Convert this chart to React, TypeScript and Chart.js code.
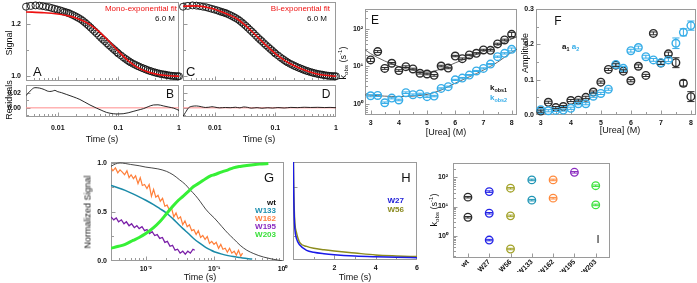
import React, { useEffect, useRef } from 'react';
import { Chart, registerables } from 'chart.js';

Chart.register(...registerables);

const PAGE_W = 697;
const PAGE_H = 283;
const FONT = '"Liberation Sans", Arial, Helvetica, sans-serif';
const RED = '#ee1111';
const GRAY = '#9a9a9a';

// ---------- A–D: 6.0 M urea trace, fits and residuals ----------
const traceTime = [0.003, 0.0036, 0.0043, 0.005, 0.0057, 0.0064, 0.0072, 0.008, 0.0089, 0.0099, 0.011, 0.012, 0.013, 0.014, 0.015, 0.016, 0.0175, 0.019, 0.0205, 0.022, 0.024, 0.026, 0.028, 0.03, 0.0325, 0.035, 0.038, 0.041, 0.044, 0.048, 0.052, 0.056, 0.06, 0.065, 0.07, 0.076, 0.082, 0.088, 0.095, 0.1, 0.11, 0.12, 0.13, 0.14, 0.15, 0.16, 0.175, 0.19, 0.205, 0.22, 0.24, 0.26, 0.28, 0.3, 0.325, 0.35, 0.38, 0.41, 0.44, 0.48, 0.52, 0.56, 0.6, 0.65, 0.7, 0.76, 0.82, 0.88, 0.95, 1.0];
const traceSignal = [1.266, 1.269, 1.271, 1.27, 1.268, 1.266, 1.264, 1.261, 1.258, 1.255, 1.252, 1.249, 1.246, 1.244, 1.242, 1.239, 1.235, 1.231, 1.227, 1.223, 1.218, 1.212, 1.206, 1.2, 1.193, 1.186, 1.178, 1.171, 1.164, 1.155, 1.147, 1.14, 1.134, 1.126, 1.119, 1.112, 1.105, 1.099, 1.092, 1.087, 1.08, 1.073, 1.067, 1.062, 1.057, 1.053, 1.048, 1.044, 1.04, 1.037, 1.033, 1.03, 1.027, 1.024, 1.021, 1.019, 1.016, 1.014, 1.012, 1.01, 1.008, 1.007, 1.006, 1.004, 1.003, 1.002, 1.001, 1.001, 1.0, 1.0];

const monoFitTime = [0.003, 0.006, 0.01, 0.015, 0.02, 0.03, 0.04, 0.05, 0.07, 0.1, 0.14, 0.2, 0.3, 0.45, 0.7, 1.0];
const monoFitSignal = [1.246, 1.243, 1.238, 1.231, 1.223, 1.205, 1.186, 1.167, 1.134, 1.096, 1.063, 1.036, 1.017, 1.007, 1.002, 1.0];

const biFitTime = [0.003, 0.005, 0.008, 0.012, 0.018, 0.024, 0.03, 0.04, 0.05, 0.065, 0.08, 0.1, 0.14, 0.2, 0.3, 0.45, 0.65, 1.0];
const biFitSignal = [1.268, 1.269, 1.262, 1.25, 1.233, 1.218, 1.2, 1.174, 1.152, 1.126, 1.107, 1.087, 1.062, 1.041, 1.024, 1.011, 1.004, 1.0];

const monoResTime = [0.003, 0.0035, 0.0042, 0.005, 0.006, 0.0068, 0.0074, 0.0082, 0.009, 0.0098, 0.0115, 0.0141, 0.018, 0.0232, 0.028, 0.034, 0.0438, 0.052, 0.064, 0.0825, 0.1, 0.12, 0.145, 0.175, 0.21, 0.26, 0.31, 0.38, 0.45, 0.55, 0.68, 0.82, 0.92, 1.0];
const monoResidual = [0.016, 0.022, 0.0265, 0.026, 0.024, 0.022, 0.0215, 0.022, 0.023, 0.0215, 0.02, 0.0175, 0.0145, 0.011, 0.0075, 0.0038, -0.0004, -0.003, -0.006, -0.0077, -0.008, -0.0077, -0.0065, -0.0047, -0.003, -0.001, 0.0015, 0.0038, 0.004, 0.0026, 0.001, -0.0004, -0.002, -0.0034];

const biResTime = [0.003, 0.0033, 0.0037, 0.0042, 0.005, 0.006, 0.007, 0.008, 0.009, 0.01, 0.012, 0.015, 0.018, 0.022, 0.026, 0.03, 0.035, 0.04, 0.05, 0.06, 0.075, 0.09, 0.11, 0.14, 0.18, 0.23, 0.3, 0.38, 0.5, 0.65, 0.8, 1.0];
const biResidual = [-0.011, -0.006, 0.0, 0.002, 0.0025, 0.0015, 0.0005, 0.0008, 0.0015, 0.001, 0.0, 0.0005, 0.0002, 0.0008, 0.0, 0.0012, 0.0006, -0.0004, 0.0003, -0.0005, 0.0002, -0.0003, 0.0004, -0.0002, 0.0006, 0.0003, 0.0008, 0.0005, 0.0007, 0.0004, 0.0006, 0.0002];

// ---------- E–F: rate constants and amplitudes vs urea ----------
const urea = [3, 3.25, 3.5, 3.75, 4, 4.25, 4.5, 4.75, 5, 5.25, 5.5, 5.75, 6, 6.25, 6.5, 6.75, 7, 7.25, 7.5, 7.75, 8];
const kobs1 = [15, 25, 8.9, 12.2, 7.8, 9.9, 8.6, 6.6, 6.3, 5.8, 10.3, 9.1, 19, 16.2, 20.3, 22.5, 27.6, 27, 40, 51, 72];
const kobs1Err = [1.5, 1.5, 0.5, 0.6, 0.4, 0.5, 0.4, 0.3, 0.3, 0.3, 0.5, 0.4, 0.8, 0.7, 0.8, 0.9, 1.2, 1.2, 1.8, 2.5, 9];
const kobs2 = [1.66, 1.69, 1.08, 1.44, 1.28, 2.0, 1.77, 1.86, 1.57, 1.63, 2.6, 2.9, 4.4, 4.9, 5.9, 7.6, 8.9, 11.6, 18.3, 22.4, 28.6];
const kobs2Err = [0.1, 0.1, 0.05, 0.07, 0.06, 0.1, 0.08, 0.08, 0.07, 0.07, 0.1, 0.1, 0.15, 0.2, 0.2, 0.25, 0.3, 0.4, 0.7, 0.9, 2.5];
const fitUrea = [2.8, 3, 3.5, 4, 4.5, 5, 5.5, 6, 6.5, 7, 7.5, 8, 8.19];
const kobs1Fit = [28, 22, 14, 10, 7.9, 7.1, 8.6, 12.5, 17.5, 25, 36, 54, 62];
const kobs2Fit = [1.75, 1.72, 1.62, 1.58, 1.62, 1.8, 2.35, 3.6, 5.3, 8.0, 13, 24, 29];

const amp1 = [0.011, 0.036, 0.021, 0.024, 0.041, 0.042, 0.05, 0.065, 0.093, 0.129, 0.141, 0.124, 0.097, 0.138, 0.112, 0.231, 0.147, 0.173, 0.148, 0.09, 0.052];
const amp1Err = [0.003, 0.003, 0.003, 0.003, 0.003, 0.003, 0.003, 0.003, 0.003, 0.003, 0.004, 0.004, 0.003, 0.004, 0.003, 0.004, 0.004, 0.005, 0.014, 0.008, 0.014];
const amp2 = [0.015, 0.012, 0.013, 0.014, 0.019, 0.032, 0.032, 0.053, 0.061, 0.073, 0.143, 0.132, 0.182, 0.191, 0.165, 0.156, 0.148, 0.156, 0.203, 0.234, 0.253];
const amp2Err = [0.003, 0.003, 0.003, 0.003, 0.003, 0.003, 0.003, 0.003, 0.003, 0.003, 0.004, 0.005, 0.004, 0.004, 0.004, 0.004, 0.004, 0.005, 0.015, 0.01, 0.013];

// ---------- G: normalised traces of the single-Trp variants ----------
const wtTime = [0.0031, 0.0036, 0.0042, 0.005, 0.006, 0.008, 0.01, 0.015, 0.02, 0.025, 0.031, 0.038, 0.044, 0.053, 0.062, 0.075, 0.09, 0.1, 0.13, 0.16, 0.19, 0.24, 0.3, 0.38, 0.45, 0.53, 0.7, 0.85, 1.0];
const wtSignal = [0.966, 0.99, 1.0, 0.995, 0.985, 0.972, 0.958, 0.94, 0.915, 0.88, 0.83, 0.78, 0.73, 0.67, 0.61, 0.53, 0.47, 0.44, 0.35, 0.28, 0.23, 0.16, 0.11, 0.075, 0.055, 0.04, 0.02, 0.01, 0.0];
const w133Time = [0.0031, 0.004, 0.005, 0.0065, 0.008, 0.01, 0.013, 0.016, 0.02, 0.025, 0.03, 0.035, 0.042, 0.05, 0.062, 0.075, 0.09, 0.1, 0.13, 0.16, 0.19, 0.24, 0.3, 0.36];
const w133Signal = [0.77, 0.745, 0.72, 0.685, 0.655, 0.62, 0.575, 0.535, 0.49, 0.43, 0.375, 0.33, 0.28, 0.23, 0.18, 0.14, 0.11, 0.095, 0.07, 0.055, 0.045, 0.035, 0.025, 0.02];
const w162Time = [0.0031, 0.0033, 0.0036, 0.0039, 0.0042, 0.0045, 0.0049, 0.0053, 0.0057, 0.0061, 0.0066, 0.0071, 0.0077, 0.0083, 0.0089, 0.0096, 0.0104, 0.0112, 0.0121, 0.013, 0.014, 0.0151, 0.0163, 0.0176, 0.019, 0.0205, 0.0221, 0.0238, 0.0257, 0.0277, 0.0298, 0.0322, 0.0347, 0.0374, 0.0403, 0.0435, 0.0469, 0.0505, 0.0545, 0.0587, 0.0633, 0.0682, 0.0736, 0.0793, 0.0855, 0.0922, 0.0994, 0.107, 0.116, 0.125, 0.134, 0.145, 0.156, 0.168, 0.181, 0.196, 0.211, 0.227, 0.245, 0.26];
const w162Signal = [0.95, 0.92, 0.95, 0.9, 0.93, 0.91, 0.88, 0.92, 0.85, 0.88, 0.84, 0.87, 0.79, 0.85, 0.77, 0.78, 0.74, 0.78, 0.66, 0.73, 0.65, 0.67, 0.61, 0.64, 0.56, 0.57, 0.52, 0.54, 0.45, 0.49, 0.43, 0.45, 0.37, 0.41, 0.35, 0.37, 0.31, 0.32, 0.27, 0.31, 0.24, 0.26, 0.22, 0.25, 0.18, 0.2, 0.17, 0.19, 0.13, 0.17, 0.12, 0.13, 0.09, 0.13, 0.08, 0.1, 0.06, 0.11, 0.05, 0.08];
const w195Time = [0.0031, 0.0034, 0.0037, 0.004, 0.0044, 0.0048, 0.0052, 0.0057, 0.0062, 0.0068, 0.0074, 0.008, 0.0088, 0.0096, 0.0104, 0.0114, 0.0124, 0.0135, 0.0147, 0.016, 0.0175, 0.019, 0.0207, 0.0226, 0.0246, 0.0268, 0.0292, 0.0318, 0.0347, 0.0378, 0.0412, 0.0449, 0.049, 0.052];
const w195Signal = [0.45, 0.42, 0.44, 0.4, 0.42, 0.38, 0.4, 0.36, 0.38, 0.34, 0.36, 0.33, 0.35, 0.31, 0.32, 0.28, 0.3, 0.26, 0.27, 0.23, 0.24, 0.19, 0.2, 0.15, 0.16, 0.11, 0.12, 0.08, 0.1, 0.07, 0.1, 0.08, 0.12, 0.11];
const w203Time = [0.0031, 0.004, 0.005, 0.0065, 0.008, 0.01, 0.013, 0.016, 0.02, 0.025, 0.03, 0.035, 0.042, 0.05, 0.062, 0.075, 0.09, 0.1, 0.13, 0.16, 0.19, 0.24, 0.3, 0.4, 0.5, 0.62];
const w203Signal = [0.13, 0.15, 0.17, 0.21, 0.24, 0.28, 0.34, 0.4, 0.48, 0.56, 0.62, 0.66, 0.71, 0.76, 0.8, 0.84, 0.87, 0.88, 0.91, 0.93, 0.95, 0.965, 0.975, 0.985, 0.99, 0.995];

// ---------- H: slow phases ----------
const slowTime = [0.01, 0.03, 0.06, 0.09, 0.17, 0.33, 0.66, 1.0, 1.5, 2, 3, 4, 5, 6];
const w27Slow = [1.2, 0.75, 0.45, 0.32, 0.22, 0.155, 0.1, 0.08, 0.065, 0.055, 0.042, 0.034, 0.028, 0.024];
const w56Slow = [1.2, 0.8, 0.52, 0.38, 0.28, 0.18, 0.14, 0.12, 0.105, 0.093, 0.072, 0.052, 0.042, 0.035];

// ---------- I: rate constants per variant ----------
const variants = ['wt', 'W27', 'W56', 'W133', 'W162', 'W195', 'W203'];
const variantColors = ['#2b2b2b', '#2323e6', '#a3a32a', '#1f95b5', '#ff8a3d', '#8a2bbf', '#3ee23e'];
const kFast = [21, 32.6, 42.7, 82, 82, 150, 52];
const kFastErr = [1.2, 2, 2.5, 5, 5, 9, 3];
const kMid = [4.3, 5.9, 4.8, 16.6, 19.4, null, 11.4];
const kMidErr = [0.25, 0.35, 0.3, 1, 1.2, null, 0.7];
const kSlow = [null, 0.71, 0.35, null, null, null, null];
const kSlowErr = [null, 0.04, 0.02, null, null, null, null];

// ---------- helpers ----------
const pts = (xs: number[], ys: (number | null)[]) => xs.map((x, i) => ({ x, y: ys[i] }));
const decadeMinors = (from: number, to: number) => {
  const out: number[] = [];
  for (let e = from; e <= to; e++) for (let m = 2; m <= 9; m++) out.push(m * Math.pow(10, e));
  return out;
};

const framePlugin = {
  id: 'frame',
  beforeDatasetsDraw(chart: any, _args: any, o: any) {
    const { ctx, chartArea: a, scales } = chart;
    ctx.save();
    ctx.strokeStyle = GRAY;
    ctx.lineWidth = 1;
    const L = Math.round(a.left) + 0.5, T = Math.round(a.top) + 0.5;
    const R = Math.round(a.right) - 0.5, B = Math.round(a.bottom) - 0.5;
    ctx.strokeRect(L, T, R - L, B - T);
    const draw = (axis: 'x' | 'y', vals: number[] | undefined, len: number) => {
      if (!vals) return;
      const s = scales[axis];
      ctx.beginPath();
      for (const v of vals) {
        const p = Math.round(s.getPixelForValue(v)) + 0.5;
        if (axis === 'x') {
          if (p <= L + 0.5 || p >= R - 0.5) continue;
          ctx.moveTo(p, B); ctx.lineTo(p, B - len);
        } else {
          if (p <= T + 0.5 || p >= B - 0.5) continue;
          ctx.moveTo(L, p); ctx.lineTo(L + len, p);
        }
      }
      ctx.stroke();
    };
    draw('x', o.xMajor, 4);
    draw('x', o.xMinor, 2.5);
    draw('y', o.yMajor, 4);
    draw('y', o.yMinor, 2.5);
    ctx.restore();
  },
};

const errorBarPlugin = {
  id: 'errorBars',
  afterDatasetsDraw(chart: any) {
    const { ctx } = chart;
    const ys = chart.scales.y;
    chart.data.datasets.forEach((ds: any, i: number) => {
      if (!ds.errors) return;
      const meta = chart.getDatasetMeta(i);
      ctx.save();
      ctx.lineWidth = 1;
      meta.data.forEach((el: any, j: number) => {
        const v = ds.data[j]?.y;
        const e = ds.errors[j];
        if (v == null || e == null) return;
        const col = Array.isArray(ds.borderColor) ? ds.borderColor[j] : ds.borderColor;
        ctx.strokeStyle = col;
        const x = el.x;
        const y1 = ys.getPixelForValue(v + e);
        const y2 = ys.getPixelForValue(Math.max(v - e, v * 0.2));
        const w = 3.6;
        ctx.beginPath();
        ctx.moveTo(x, y1); ctx.lineTo(x, y2);
        ctx.moveTo(x - w, y1); ctx.lineTo(x + w, y1);
        ctx.moveTo(x - w, y2); ctx.lineTo(x + w, y2);
        ctx.stroke();
      });
      ctx.restore();
    });
  },
};

type Box = { l: number; t: number; r: number; b: number };
type AxisSpec = {
  type: 'linear' | 'logarithmic';
  min: number;
  max: number;
  ticks?: number[];
  labels?: string[];
  pad?: number;
  rotate?: number;
};

const Y_W = 20;
const X_H = 14;

function scale(spec: AxisSpec, horizontal: boolean) {
  return {
    type: spec.type,
    min: spec.min,
    max: spec.max,
    bounds: 'data',
    grid: { display: false, drawTicks: false },
    border: { display: false },
    ticks: {
      display: !!spec.labels,
      autoSkip: false,
      padding: spec.pad ?? 3,
      maxRotation: spec.rotate ?? 0,
      minRotation: spec.rotate ?? 0,
      color: '#111',
      font: { family: FONT, size: 7, weight: 'bold' },
      callback: (_v: any, i: number) => (spec.labels ? spec.labels[i] : ''),
    },
    afterBuildTicks: (s: any) => {
      s.ticks = (spec.ticks ?? []).map((v) => ({ value: v }));
    },
    afterFit: (s: any) => {
      if (horizontal) s.height = X_H;
      else s.width = Y_W;
      s.paddingLeft = 0;
      s.paddingRight = 0;
      s.paddingTop = 0;
      s.paddingBottom = 0;
    },
  };
}

function makeConfig(box: Box, x: AxisSpec, y: AxisSpec, datasets: any[], frame: any) {
  return {
    type: 'scatter',
    data: { datasets },
    plugins: [framePlugin, errorBarPlugin],
    options: {
      animation: false,
      responsive: false,
      devicePixelRatio: 1,
      events: [],
      layout: {
        autoPadding: false,
        padding: { left: box.l - Y_W, top: box.t, right: PAGE_W - box.r, bottom: PAGE_H - box.b - X_H },
      },
      scales: { x: scale(x, true), y: scale(y, false) },
      plugins: { legend: { display: false }, tooltip: { enabled: false }, frame },
    },
  };
}

const line = (data: any[], color: string, width: number, smooth = true) => ({
  data,
  showLine: true,
  pointRadius: 0,
  borderColor: color,
  backgroundColor: color,
  borderWidth: width,
  cubicInterpolationMode: smooth ? 'monotone' : 'default',
  tension: 0,
});

const rings = (data: any[], color: any, radius: number, width: number, errors?: any[]) => ({
  data,
  showLine: false,
  pointRadius: radius,
  pointBorderWidth: width,
  borderWidth: width,
  borderColor: color,
  pointBorderColor: color,
  backgroundColor: 'rgba(0,0,0,0)',
  pointBackgroundColor: 'rgba(0,0,0,0)',
  clip: false,
  errors,
});

const timeMajor = [0.01, 0.1, 1];
const timeMinor = decadeMinors(-3, -1);
const traceY: AxisSpec = { type: 'linear', min: 0.982, max: 1.284 };
const resY: AxisSpec = { type: 'linear', min: -0.012, max: 0.03 };
const traceFrame = { xMajor: timeMajor, xMinor: timeMinor, yMajor: [1.0, 1.2], yMinor: [1.1] };
const resFrame = { xMajor: timeMajor, xMinor: timeMinor, yMajor: [0, 0.02], yMinor: [0.01, -0.01] };
const timeAxis = (labels: boolean): AxisSpec => ({
  type: 'logarithmic', min: 0.003, max: 1,
  ticks: labels ? timeMajor : [], labels: labels ? ['0.01', '0.1', '1'] : undefined, pad: 7,
});
const zeroLine = () => line([{ x: 0.003, y: 0 }, { x: 1, y: 0 }], '#ff8c8c', 1, false);

const buildA = () => makeConfig({ l: 26, t: 2, r: 179, b: 81 }, timeAxis(false),
  { ...traceY, ticks: [1.0, 1.2], labels: ['1.0', '1.2'], pad: 5 },
  [line(pts(monoFitTime, monoFitSignal), RED, 1.6), rings(pts(traceTime, traceSignal), '#111', 3.5, 0.9)],
  traceFrame);

const buildB = () => makeConfig({ l: 26, t: 85, r: 179, b: 117 }, timeAxis(true),
  { ...resY, ticks: [0, 0.02], labels: ['0.00', '0.02'], pad: 5 },
  [line(pts(monoResTime, monoResidual), '#111', 0.9), zeroLine()],
  resFrame);

const buildC = () => makeConfig({ l: 183, t: 2, r: 336, b: 81 }, timeAxis(false), traceY,
  [line(pts(biFitTime, biFitSignal), RED, 1.6), rings(pts(traceTime, traceSignal), '#111', 3.5, 0.9)],
  traceFrame);

const buildD = () => makeConfig({ l: 183, t: 85, r: 336, b: 117 }, timeAxis(true), resY,
  [line(pts(biResTime, biResidual), '#111', 0.9), zeroLine()],
  resFrame);

const KBLUE = '#36ade8';
const ureaMajor = [3, 4, 5, 6, 7, 8];
const ureaMinor = [3.5, 4.5, 5.5, 6.5, 7.5];

const buildE = () => makeConfig({ l: 365, t: 9, r: 517, b: 115 },
  { type: 'linear', min: 2.8, max: 8.19, ticks: ureaMajor, labels: ureaMajor.map(String), pad: 4 },
  { type: 'logarithmic', min: 0.509, max: 341, ticks: [1, 10, 100], labels: ['10\u2070', '10\u00b9', '10\u00b2'], pad: 2 },
  [
    rings(pts(urea, kobs2), KBLUE, 3.8, 1.4, kobs2Err),
    rings(pts(urea, kobs1), '#2a2a2a', 3.8, 1.4, kobs1Err),
    line(pts(fitUrea, kobs1Fit), '#555', 0.9),
    line(pts(fitUrea, kobs2Fit), '#555', 0.9),
  ],
  { xMajor: ureaMajor, xMinor: ureaMinor, yMajor: [1, 10, 100], yMinor: decadeMinors(-1, 2) });

const buildF = () => makeConfig({ l: 536, t: 9, r: 696, b: 115 },
  { type: 'linear', min: 2.84, max: 8.17, ticks: ureaMajor, labels: ureaMajor.map(String), pad: 4 },
  { type: 'linear', min: 0, max: 0.3, ticks: [0, 0.1, 0.2, 0.3], labels: ['0.0', '0.1', '0.2', '0.3'], pad: 2 },
  [
    rings(pts(urea, amp2), KBLUE, 3.8, 1.4, amp2Err),
    rings(pts(urea, amp1), '#2a2a2a', 3.8, 1.4, amp1Err),
  ],
  { xMajor: ureaMajor, xMinor: ureaMinor, yMajor: [0, 0.1, 0.2, 0.3], yMinor: [0.05, 0.15, 0.25] });

const buildG = () => makeConfig({ l: 111, t: 162, r: 284, b: 261 },
  { type: 'logarithmic', min: 0.0031, max: 1.05, ticks: timeMajor, labels: ['10\u207b\u00b2', '10\u207b\u00b9', '10\u2070'], pad: 4 },
  { type: 'linear', min: 0, max: 1.01, ticks: [0, 0.5, 1], labels: ['0.0', '0.5', '1.0'], pad: 4 },
  [
    line(pts(w203Time, w203Signal), '#36f036', 3),
    line(pts(wtTime, wtSignal), '#333', 0.9),
    line(pts(w195Time, w195Signal), '#7a1fa8', 1.3, false),
    line(pts(w162Time, w162Signal), '#ff7f3a', 1.2, false),
    line(pts(w133Time, w133Signal), '#1a8aa8', 1.5),
  ],
  { xMajor: timeMajor, xMinor: decadeMinors(-3, -1), yMajor: [0, 0.5, 1], yMinor: [0.25, 0.75] });

const buildH = () => makeConfig({ l: 293, t: 162, r: 417, b: 260 },
  { type: 'linear', min: 0, max: 6, ticks: [2, 4, 6], labels: ['2', '4', '6'], pad: 4 },
  { type: 'linear', min: 0, max: 1.01 },
  [
    line(pts(slowTime, w27Slow), '#1a1ae8', 1.5),
    line(pts(slowTime, w56Slow), '#8c8c1e', 1.5),
  ],
  { xMajor: [2, 4, 6], xMinor: [1, 3, 5], yMajor: [0.25, 0.75] });

const variantIdx = variants.map((_, i) => i);
const buildI = () => makeConfig({ l: 453, t: 163, r: 610, b: 258 },
  { type: 'linear', min: -0.7, max: 6.67, ticks: variantIdx, labels: variants, pad: 0, rotate: 45 },
  { type: 'logarithmic', min: 0.172, max: 312, ticks: [1, 10, 100], labels: ['10\u2070', '10\u00b9', '10\u00b2'], pad: 5 },
  [
    rings(pts(variantIdx, kFast), variantColors, 3.8, 1.3, kFastErr),
    rings(pts(variantIdx, kMid), variantColors, 3.8, 1.3, kMidErr),
    rings(pts(variantIdx, kSlow), variantColors, 3.8, 1.3, kSlowErr),
  ],
  { xMajor: variantIdx, yMajor: [1, 10, 100], yMinor: decadeMinors(-1, 2) });

const builders = [buildA, buildB, buildC, buildD, buildE, buildF, buildG, buildH, buildI];

function ChartCanvas({ build }: { build: () => any }) {
  const ref = useRef<HTMLCanvasElement | null>(null);
  useEffect(() => {
    const chart = new Chart(ref.current as HTMLCanvasElement, build() as any);
    return () => chart.destroy();
  }, [build]);
  return (
    <canvas
      ref={ref}
      width={PAGE_W}
      height={PAGE_H}
      style={{ position: 'absolute', left: 0, top: 0, width: PAGE_W, height: PAGE_H }}
    />
  );
}

type LabelProps = {
  x: number;
  y: number;
  size?: number;
  color?: string;
  bold?: boolean;
  align?: 'left' | 'center' | 'right';
  rotate?: boolean;
  children: React.ReactNode;
};

function Label({ x, y, size = 9, color = '#111', bold = false, align = 'center', rotate = false, children }: LabelProps) {
  const tx = align === 'left' ? '0' : align === 'right' ? '-100%' : '-50%';
  return (
    <div
      style={{
        position: 'absolute',
        left: x,
        top: y,
        fontFamily: FONT,
        fontSize: size,
        fontWeight: bold ? 700 : 400,
        color,
        whiteSpace: 'nowrap',
        lineHeight: 1,
        transform: rotate ? 'translate(-50%, -50%) rotate(-90deg)' : `translate(${tx}, -50%)`,
      }}
    >
      {children}
    </div>
  );
}

const Sub = ({ children }: { children: React.ReactNode }) => (
  <span style={{ fontSize: '68%', verticalAlign: '-0.35em', lineHeight: 0 }}>{children}</span>
);
const Sup = ({ children }: { children: React.ReactNode }) => (
  <span style={{ fontSize: '68%', verticalAlign: '0.5em', lineHeight: 0 }}>{children}</span>
);

const KobsTitle = () => (
  <>
    k<Sub>obs</Sub> (s<Sup>-1</Sup>)
  </>
);

export default function App() {
  return (
    <div
      style={{
        position: 'absolute',
        left: 0,
        top: 0,
        width: PAGE_W,
        height: PAGE_H,
        background: '#fff',
        overflow: 'hidden',
      }}
    >
      {builders.map((b, i) => (
        <ChartCanvas key={i} build={b} />
      ))}

      {/* axis titles */}
      <Label x={9} y={43} rotate>Signal</Label>
      <Label x={9} y={100} rotate>Residuals</Label>
      <Label x={102} y={139}>Time (s)</Label>
      <Label x={259} y={139}>Time (s)</Label>
      <Label x={343} y={63} rotate><KobsTitle /></Label>
      <Label x={446} y={132}>[Urea] (M)</Label>
      <Label x={525} y={53} rotate>Amplitude</Label>
      <Label x={620} y={130}>[Urea] (M)</Label>
      <Label x={88} y={212} rotate>Normalized Signal</Label>
      <Label x={200} y={277}>Time (s)</Label>
      <Label x={355} y={277}>Time (s)</Label>
      <Label x={434} y={210} rotate><KobsTitle /></Label>

      {/* in-panel annotations */}
      <Label x={177} y={8.5} size={8} color={RED} align="right">Mono-exponential fit</Label>
      <Label x={175} y={18.5} size={8} align="right">6.0 M</Label>
      <Label x={330} y={8.5} size={8} color={RED} align="right">Bi-exponential fit</Label>
      <Label x={327} y={18.5} size={8} align="right">6.0 M</Label>

      <Label x={490} y={88} size={8} bold align="left">k<Sub>obs1</Sub></Label>
      <Label x={490} y={98} size={8} bold color={KBLUE} align="left">k<Sub>obs2</Sub></Label>
      <Label x={562} y={47} size={8} bold align="left">
        a<Sub>1</Sub> <span style={{ color: KBLUE }}>a<Sub>2</Sub></span>
      </Label>

      <Label x={276} y={202.5} size={8} bold align="right">wt</Label>
      <Label x={276} y={210.5} size={8} bold color="#1e90b0" align="right">W133</Label>
      <Label x={276} y={218.5} size={8} bold color="#ff8040" align="right">W162</Label>
      <Label x={276} y={226.5} size={8} bold color="#8a2bc0" align="right">W195</Label>
      <Label x={276} y={235} size={8} bold color="#3ce03c" align="right">W203</Label>

      <Label x={404} y={201} size={8} bold color="#2020d8" align="right">W27</Label>
      <Label x={404} y={209.5} size={8} bold color="#8a8a20" align="right">W56</Label>

      {/* panel letters */}
      <Label x={33} y={71} size={13} align="left">A</Label>
      <Label x={170} y={94} size={12}>B</Label>
      <Label x={186} y={71} size={13} align="left">C</Label>
      <Label x={326} y={94} size={12}>D</Label>
      <Label x={375} y={20} size={12}>E</Label>
      <Label x={558} y={21} size={12}>F</Label>
      <Label x={269} y={177} size={13}>G</Label>
      <Label x={406} y={177} size={13}>H</Label>
      <Label x={598} y={239} size={11}>I</Label>
    </div>
  );
}
